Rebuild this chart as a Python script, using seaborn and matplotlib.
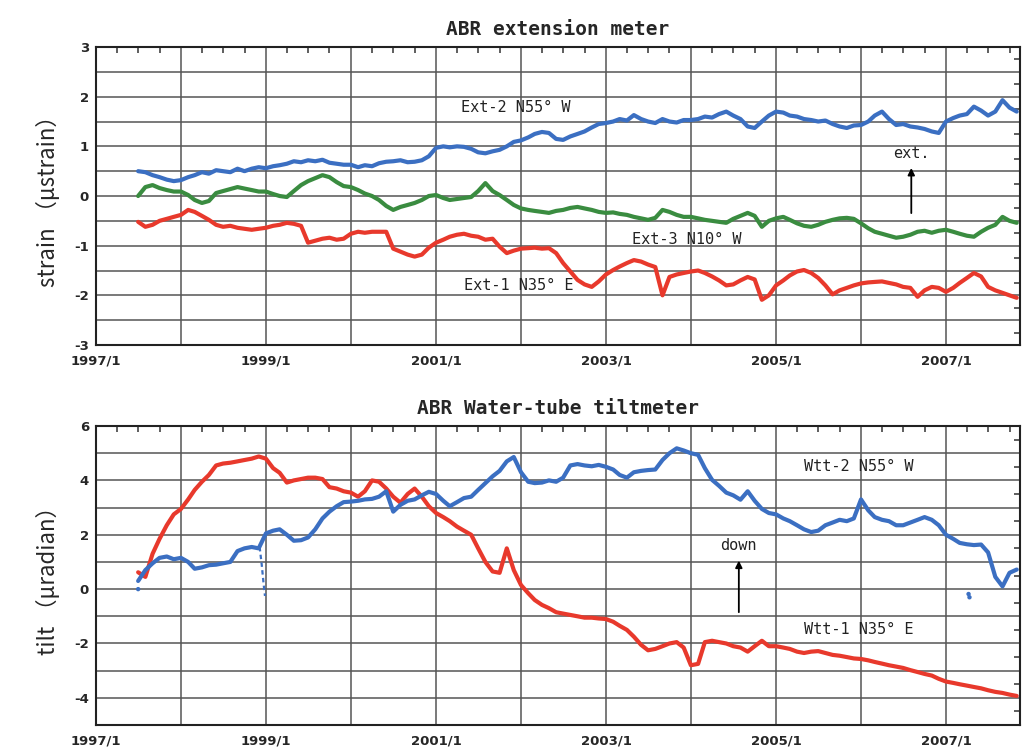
import numpy as np
import pandas as pd
import matplotlib
matplotlib.use('Agg')
import matplotlib.pyplot as plt
import matplotlib.dates as mdates
from matplotlib.ticker import MultipleLocator, FuncFormatter
import seaborn as sns

# === data: monthly readings, 1997/7 .. 2007/11 ===
start_month = '1997-07-01'

ext2 = [0.50, 0.48, 0.42, 0.38, 0.33, 0.30,
        0.32, 0.38, 0.42, 0.48, 0.45, 0.52, 0.50, 0.48, 0.55, 0.50, 0.55, 0.58,
        0.56, 0.60, 0.62, 0.65, 0.70, 0.68, 0.72, 0.70, 0.73, 0.67, 0.65, 0.63,
        0.63, 0.58, 0.62, 0.60, 0.66, 0.69, 0.70, 0.72, 0.68, 0.69, 0.72, 0.80,
        0.97, 1.00, 0.98, 1.00, 0.99, 0.95, 0.88, 0.86, 0.90, 0.93, 1.00, 1.09,
        1.12, 1.18, 1.25, 1.29, 1.27, 1.15, 1.13, 1.20, 1.25, 1.30, 1.38, 1.45,
        1.47, 1.50, 1.55, 1.52, 1.63, 1.55, 1.50, 1.47, 1.55, 1.50, 1.48, 1.53,
        1.53, 1.55, 1.60, 1.58, 1.65, 1.70, 1.62, 1.55, 1.40, 1.37, 1.50, 1.62,
        1.70, 1.68, 1.62, 1.60, 1.55, 1.53, 1.50, 1.52, 1.45, 1.40, 1.37, 1.42,
        1.43, 1.50, 1.62, 1.70, 1.55, 1.43, 1.45, 1.40, 1.38, 1.35, 1.30, 1.27,
        1.50, 1.57, 1.62, 1.65, 1.80, 1.72, 1.62, 1.70, 1.93, 1.78, 1.70]

ext3 = [0.00, 0.18, 0.22, 0.16, 0.12, 0.09,
        0.09, 0.02, -0.08, -0.14, -0.10, 0.06, 0.10, 0.14, 0.18, 0.15, 0.12, 0.09,
        0.09, 0.04, 0.00, -0.02, 0.10, 0.22, 0.30, 0.36, 0.42, 0.38, 0.28, 0.20,
        0.18, 0.12, 0.05, 0.00, -0.08, -0.20, -0.28, -0.22, -0.18, -0.14, -0.08, 0.00,
        0.02, -0.04, -0.08, -0.06, -0.04, -0.02, 0.10, 0.26, 0.10, 0.02, -0.08, -0.18,
        -0.25, -0.28, -0.30, -0.32, -0.34, -0.30, -0.28, -0.24, -0.22, -0.25, -0.28, -0.32,
        -0.34, -0.33, -0.36, -0.38, -0.42, -0.45, -0.48, -0.44, -0.28, -0.32, -0.38, -0.42,
        -0.42, -0.45, -0.48, -0.50, -0.52, -0.54, -0.46, -0.40, -0.34, -0.40, -0.62, -0.50,
        -0.45, -0.42, -0.48, -0.55, -0.60, -0.62, -0.58, -0.52, -0.48, -0.45, -0.44, -0.46,
        -0.55, -0.65, -0.72, -0.76, -0.80, -0.84, -0.82, -0.78, -0.72, -0.70, -0.74, -0.70,
        -0.68, -0.72, -0.76, -0.80, -0.82, -0.72, -0.64, -0.58, -0.42, -0.50, -0.54]

ext1 = [-0.52, -0.62, -0.58, -0.50, -0.46, -0.42,
        -0.38, -0.28, -0.32, -0.40, -0.48, -0.58, -0.62, -0.60, -0.64, -0.66, -0.68, -0.66,
        -0.64, -0.60, -0.58, -0.54, -0.56, -0.60, -0.94, -0.90, -0.86, -0.84, -0.88, -0.86,
        -0.76, -0.72, -0.74, -0.72, -0.72, -0.72, -1.06, -1.12, -1.18, -1.22, -1.18, -1.04,
        -0.94, -0.88, -0.82, -0.78, -0.76, -0.80, -0.82, -0.88, -0.86, -1.02, -1.15, -1.10,
        -1.06, -1.05, -1.04, -1.06, -1.05, -1.15, -1.35, -1.52, -1.69, -1.78, -1.83, -1.72,
        -1.58, -1.49, -1.42, -1.35, -1.29, -1.32, -1.38, -1.43, -2.00, -1.63, -1.58, -1.55,
        -1.52, -1.50, -1.55, -1.62, -1.70, -1.80, -1.78, -1.70, -1.63, -1.68, -2.09, -2.00,
        -1.80, -1.70, -1.60, -1.52, -1.49, -1.55, -1.65, -1.80, -1.98, -1.90, -1.85, -1.80,
        -1.76, -1.74, -1.73, -1.72, -1.75, -1.78, -1.83, -1.85, -2.03, -1.90, -1.83, -1.85,
        -1.93, -1.85, -1.75, -1.65, -1.55, -1.62, -1.83, -1.90, -1.95, -2.00, -2.05]

wtt1 = [0.62, 0.45, 1.30, 1.85, 2.35, 2.75,
        2.95, 3.30, 3.65, 3.95, 4.20, 4.55, 4.62, 4.65, 4.70, 4.75, 4.80, 4.88,
        4.80, 4.45, 4.28, 3.92, 4.00, 4.05, 4.10, 4.10, 4.05, 3.75, 3.70, 3.60,
        3.55, 3.40, 3.60, 4.00, 3.95, 3.70, 3.40, 3.18, 3.50, 3.70, 3.40, 3.05,
        2.80, 2.65, 2.50, 2.30, 2.15, 2.00, 1.50, 1.00, 0.65, 0.60, 1.50, 0.70,
        0.15, -0.15, -0.40, -0.58, -0.70, -0.85, -0.90, -0.95, -1.00, -1.05, -1.05, -1.08,
        -1.10, -1.20, -1.35, -1.50, -1.75, -2.05, -2.25, -2.20, -2.10, -2.00, -1.95, -2.15,
        -2.80, -2.75, -1.95, -1.90, -1.95, -2.00, -2.10, -2.15, -2.30, -2.10, -1.90, -2.10,
        -2.10, -2.15, -2.20, -2.30, -2.35, -2.30, -2.28, -2.35, -2.42, -2.45, -2.50, -2.55,
        -2.57, -2.62, -2.68, -2.74, -2.80, -2.85, -2.90, -2.98, -3.05, -3.12, -3.18, -3.30,
        -3.40, -3.45, -3.50, -3.55, -3.60, -3.65, -3.72, -3.78, -3.82, -3.88, -3.93]

wtt2 = [0.30, 0.70, 0.95, 1.15, 1.20, 1.10,
        1.15, 1.00, 0.75, 0.80, 0.88, 0.90, 0.95, 1.00, 1.40, 1.50, 1.55, 1.50,
        2.05, 2.15, 2.20, 2.00, 1.78, 1.80, 1.90, 2.20, 2.60, 2.85, 3.05, 3.20,
        3.22, 3.25, 3.30, 3.32, 3.40, 3.60, 2.85, 3.10, 3.25, 3.30, 3.45, 3.58,
        3.50, 3.25, 3.05, 3.20, 3.35, 3.40, 3.65, 3.90, 4.15, 4.35, 4.70, 4.86,
        4.30, 3.95, 3.90, 3.92, 4.00, 3.95, 4.10, 4.55, 4.60, 4.55, 4.52, 4.57,
        4.50, 4.40, 4.20, 4.10, 4.30, 4.35, 4.38, 4.40, 4.75, 5.00, 5.18, 5.10,
        5.00, 4.94, 4.45, 4.02, 3.80, 3.55, 3.45, 3.29, 3.60, 3.25, 2.95, 2.80,
        2.75, 2.60, 2.50, 2.35, 2.20, 2.10, 2.15, 2.35, 2.45, 2.55, 2.50, 2.60,
        3.30, 2.90, 2.65, 2.55, 2.50, 2.35, 2.35, 2.45, 2.55, 2.65, 2.55, 2.35,
        2.00, 1.85, 1.70, 1.65, 1.62, 1.64, 1.35, 0.45, 0.10, 0.60, 0.72]

# short Wtt-2 dip just before 1999/1
wtt2_dip_dates = ['1998-12-05', '1998-12-14', '1998-12-22', '1998-12-28']
wtt2_dip_vals = [1.55, 0.90, 0.20, -0.25]

# isolated readings of Wtt-2
wtt2_dot_dates = ['1997-07-01', '2007-04-08', '2007-04-12']
wtt2_dot_vals = [0.0, -0.18, -0.30]

dates = pd.date_range(start_month, periods=len(ext2), freq='MS')

# === style ===
sns.set_style('white')
plt.rcParams['font.family'] = ['DejaVu Sans']

c_blue = '#3b6fc2'
c_green = '#3a8c40'
c_red = '#e8392c'
grid_c = '#555555'
gothic = ['Noto Sans CJK JP', 'DejaVu Sans']
mono = 'DejaVu Sans Mono'

fig, axes = plt.subplots(2, 1, figsize=(10.28, 7.49), dpi=100)
ax1, ax2 = axes
ax1.set_position([0.0934, 0.5394, 0.8988, 0.3978])
ax2.set_position([0.0934, 0.0320, 0.8988, 0.3992])

# --- top: extension meter ---
for vals, col in [(ext2, c_blue), (ext3, c_green), (ext1, c_red)]:
    sns.lineplot(x=dates, y=vals, ax=ax1, color=col, lw=3.0)
ax1.set_ylim(-3, 3)
ax1.yaxis.set_major_locator(MultipleLocator(0.5))
ax1.yaxis.set_minor_locator(MultipleLocator(0.25))
ax1.yaxis.set_major_formatter(FuncFormatter(
    lambda v, p: f'{int(round(v))}' if abs(v - round(v)) < 1e-6 else ''))
ax1.set_title('ABR extension meter', fontsize=14, fontweight='bold',
              family=mono, pad=9)
ax1.set_ylabel('strain （μstrain）', fontsize=16, family=gothic, labelpad=10)

ax1.text(pd.Timestamp('2001-04-20'), 1.79, 'Ext-2 N55° W', fontsize=11,
         family=mono, va='center', color='#222222')
ax1.text(pd.Timestamp('2003-04-25'), -0.88, 'Ext-3 N10° W', fontsize=11,
         family=mono, va='center', color='#222222')
ax1.text(pd.Timestamp('2001-05-01'), -1.81, 'Ext-1 N35° E', fontsize=11,
         family=mono, va='center', color='#222222')
ax1.text(pd.Timestamp('2006-08-05'), 0.86, 'ext.', fontsize=11,
         family=mono, ha='center', va='center', color='#222222')
ax1.annotate('', xy=(pd.Timestamp('2006-08-05'), 0.62),
             xytext=(pd.Timestamp('2006-08-05'), -0.40),
             arrowprops=dict(arrowstyle='-|>', color='black', lw=1.3,
                             mutation_scale=10))

# --- bottom: water-tube tiltmeter ---
sns.lineplot(x=dates, y=wtt1, ax=ax2, color=c_red, lw=3.0)
sns.lineplot(x=dates, y=wtt2, ax=ax2, color=c_blue, lw=3.0)
sns.lineplot(x=pd.to_datetime(wtt2_dip_dates), y=wtt2_dip_vals, ax=ax2,
             color=c_blue, lw=1.6, ls=(0, (2, 1.5)))
sns.scatterplot(x=pd.to_datetime(wtt2_dot_dates), y=wtt2_dot_vals, ax=ax2,
                color=c_blue, s=10, edgecolor='none')
ax2.set_ylim(-5, 6)
ax2.yaxis.set_major_locator(MultipleLocator(1))
ax2.yaxis.set_minor_locator(MultipleLocator(0.5))
ax2.yaxis.set_major_formatter(FuncFormatter(
    lambda v, p: f'{int(round(v))}' if int(round(v)) % 2 == 0 else ''))
ax2.set_title('ABR Water-tube tiltmeter', fontsize=14, fontweight='bold',
              family=mono, pad=9)
ax2.set_ylabel('tilt （μradian）', fontsize=16, family=gothic, labelpad=10)

ax2.text(pd.Timestamp('2005-05-01'), 4.5, 'Wtt-2 N55° W', fontsize=11,
         family=mono, va='center', color='#222222')
ax2.text(pd.Timestamp('2005-05-01'), -1.5, 'Wtt-1 N35° E', fontsize=11,
         family=mono, va='center', color='#222222')
ax2.text(pd.Timestamp('2004-07-25'), 1.6, 'down', fontsize=11,
         family=mono, ha='center', va='center', color='#222222')
ax2.annotate('', xy=(pd.Timestamp('2004-07-25'), 1.15),
             xytext=(pd.Timestamp('2004-07-25'), -0.95),
             arrowprops=dict(arrowstyle='-|>', color='black', lw=1.3,
                             mutation_scale=10))

# --- shared axis formatting ---
for ax in axes:
    ax.set_xlim(pd.Timestamp('1997-01-01'), pd.Timestamp('2007-11-15'))
    ax.xaxis.set_major_locator(mdates.YearLocator(1))
    ax.xaxis.set_minor_locator(mdates.MonthLocator(bymonth=[4, 7, 10]))
    ax.xaxis.set_major_formatter(FuncFormatter(
        lambda v, p: f'{mdates.num2date(v).year}/1'
        if mdates.num2date(v).year % 2 == 1 else ''))
    ax.grid(True, which='major', color=grid_c, lw=1.1)
    ax.set_xlabel('')
    ax.tick_params(which='both', direction='in', top=True, right=True)
    ax.tick_params(which='major', length=0, labelsize=9.5)
    ax.tick_params(axis='x', which='major', pad=7)
    ax.tick_params(axis='y', which='major', pad=5)
    ax.tick_params(which='minor', length=4, width=1.1, color='#333333')
    for lab in ax.get_xticklabels() + ax.get_yticklabels():
        lab.set_fontweight('bold')
    for spine in ax.spines.values():
        spine.set_visible(True)
        spine.set_color('#222222')
        spine.set_linewidth(1.5)

plt.savefig('out.png', dpi=100)
